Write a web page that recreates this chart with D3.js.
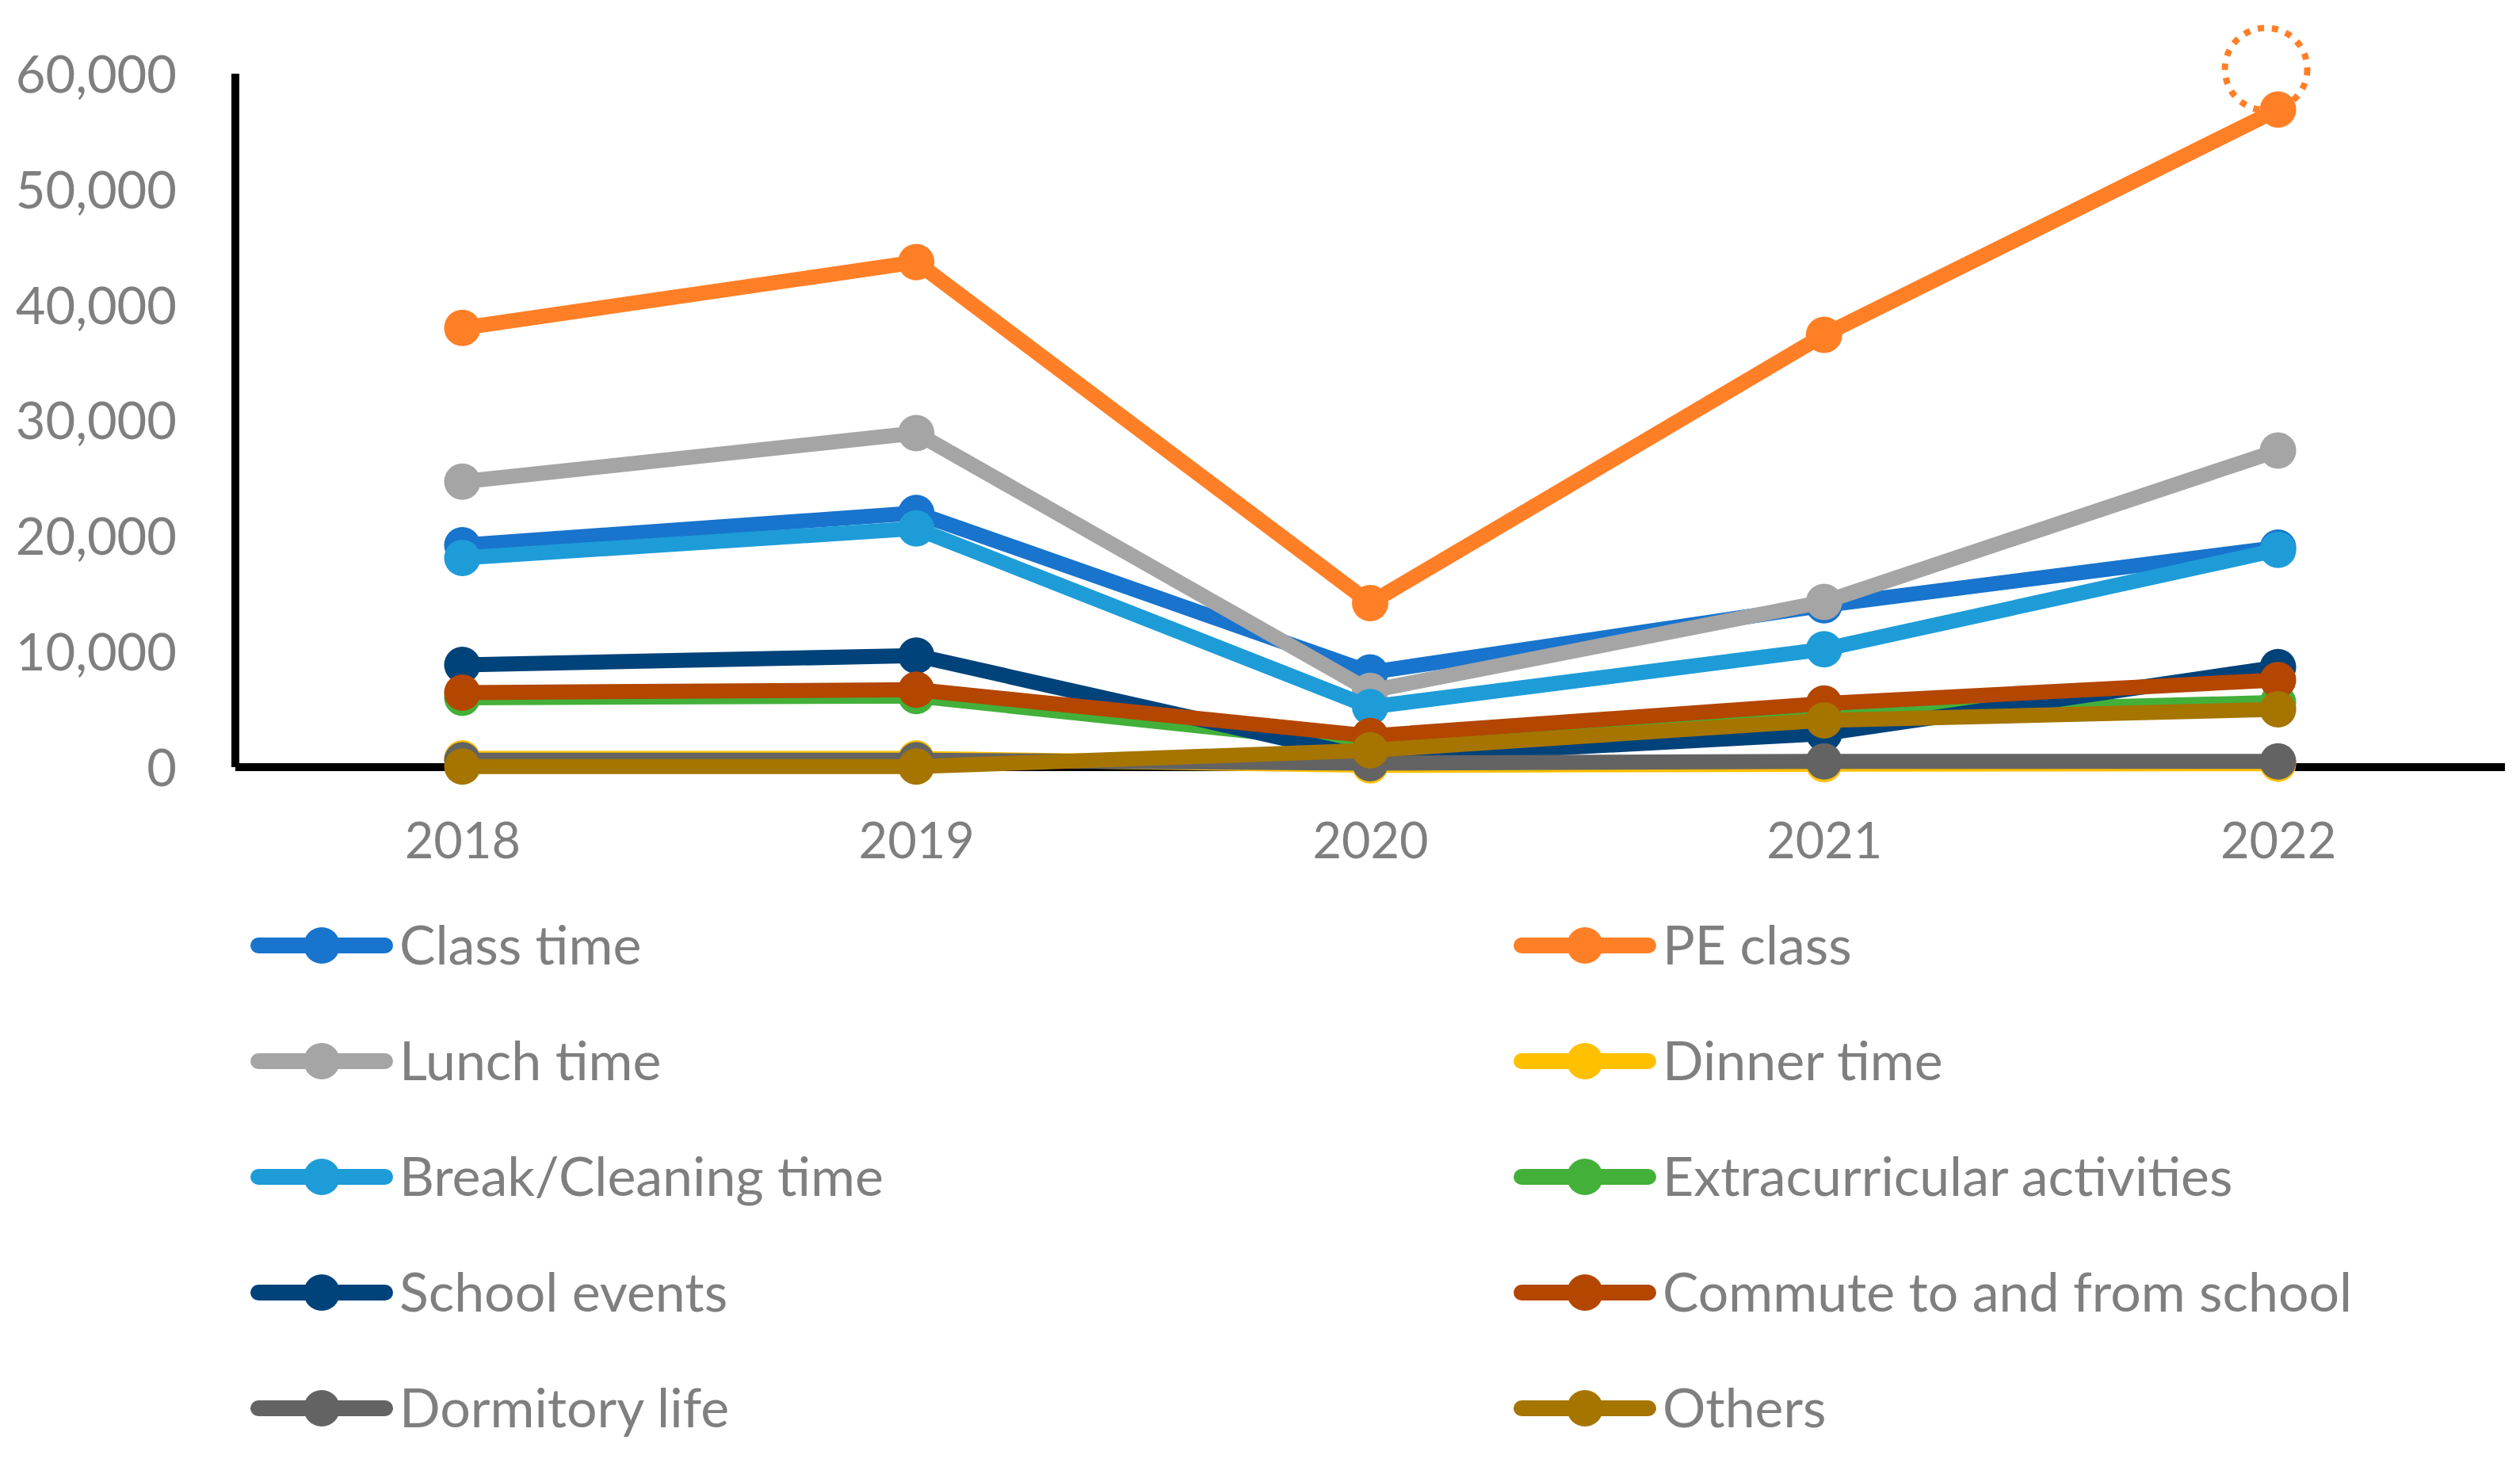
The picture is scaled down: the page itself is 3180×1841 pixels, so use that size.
<!DOCTYPE html>
<html>
<head>
<meta charset="utf-8">
<script src="https://cdn.jsdelivr.net/npm/d3@7"></script>
<style>
    body { margin: 0; background: #ffffff; }
    text { font-family: Lato, "Open Sans", sans-serif; fill: #7f7f7f; }
</style>
</head>
<body>
<div id="chart"></div>
<script>
// categories
var years = ["2018", "2019", "2020", "2021", "2022"];
var yTicks = [0, 10000, 20000, 30000, 40000, 50000, 60000];

// series values
var classTime = [19200, 22000, 8200, 14000, 19000];
var peClass = [38000, 43700, 14200, 37400, 56900];
var lunchTime = [24700, 28900, 6600, 14300, 27400];
var dinnerTime = [750, 750, 150, 250, 300];
var breakTime = [18100, 20650, 5200, 10200, 18800];
var extracurricular = [6000, 6150, 2000, 4600, 5600];
var schoolEvents = [8850, 9650, 800, 2900, 8650];
var commute = [6450, 6700, 2700, 5500, 7550];
var dormitory = [600, 600, 350, 500, 500];
var others = [50, 50, 1450, 4050, 5000];

var seriesNames = ["Class time", "PE class", "Lunch time", "Dinner time", "Break/Cleaning time",
    "Extracurricular activities", "School events", "Commute to and from school", "Dormitory life", "Others"];
var seriesValues = [classTime, peClass, lunchTime, dinnerTime, breakTime,
    extracurricular, schoolEvents, commute, dormitory, others];
var seriesColours = ["#1874cd", "#ff7f27", "#a5a5a5", "#ffc000", "#1e9cd8",
    "#43b03a", "#00427a", "#b34600", "#636363", "#a57500"];

var drawChart = (function () {
    const width = 3180;
    const height = 1841;
    const left = 297, right = 3161, top = 93, bottom = 968;

    var svg, x, y;

    function buildSvg() {
        svg = d3.select("#chart").append("svg")
            .attr("width", width)
            .attr("height", height);

        svg.append("rect")
            .attr("width", width)
            .attr("height", height)
            .attr("fill", "#ffffff");

        x = d3.scalePoint().domain(years).range([left, right]).padding(0.5);
        y = d3.scaleLinear().domain([0, 60000]).range([bottom, top]);
    }

    function drawAxes() {
        var yAxis = d3.axisLeft(y).tickValues(yTicks).tickFormat(d3.format(",")).tickSize(0).tickPadding(74);
        var gy = svg.append("g").attr("transform", "translate(" + left + ",0)").call(yAxis);
        gy.select(".domain").attr("stroke", "#000").attr("stroke-width", 10).attr("d", "M0," + top + "V" + bottom);
        gy.selectAll("text")
            .attr("font-size", 65)
            .attr("dy", "0.36em");

        var xAxis = d3.axisBottom(x).tickSize(0).tickPadding(70);
        var gx = svg.append("g").attr("transform", "translate(0," + bottom + ")").call(xAxis);
        gx.select(".domain").attr("stroke", "#000").attr("stroke-width", 10).attr("d", "M" + left + ",0H" + right);
        gx.selectAll("text")
            .attr("font-size", 63)
            .attr("dy", "0.71em");
        svg.selectAll(".tick text").attr("fill", "#7f7f7f").style("font-family", "Lato, sans-serif");
    }

    function drawSeries() {
        var line = d3.line()
            .x(function (d, i) { return x(years[i]) })
            .y(function (d) { return y(d) });

        seriesValues.forEach(function (values, s) {
            var g = svg.append("g");
            g.append("path")
                .attr("d", line(values))
                .attr("fill", "none")
                .attr("stroke", seriesColours[s])
                .attr("stroke-width", 19)
                .attr("stroke-linejoin", "round")
                .attr("stroke-linecap", "round");
            g.selectAll("circle")
                .data(values)
                .enter()
                .append("circle")
                .attr("cx", function (d, i) { return x(years[i]) })
                .attr("cy", function (d) { return y(d) })
                .attr("r", 23)
                .attr("fill", seriesColours[s]);
        });

        // dotted callout above the 2022 PE class point
        svg.append("circle")
            .attr("cx", x("2022") - 15)
            .attr("cy", y(60400))
            .attr("r", 52)
            .attr("fill", "none")
            .attr("stroke", "#ff7f27")
            .attr("stroke-width", 8)
            .attr("stroke-dasharray", "8 10");
    }

    function drawLegend() {
        var colX = [316, 1910];
        var rowY = d3.scaleLinear().domain([0, 4]).range([1193, 1777]);

        seriesNames.forEach(function (name, s) {
            var cx = colX[s % 2];
            var cy = rowY(Math.floor(s / 2));
            var g = svg.append("g").attr("transform", "translate(" + cx + "," + cy + ")");
            g.append("line")
                .attr("x1", 10).attr("x2", 170)
                .attr("stroke", seriesColours[s])
                .attr("stroke-width", 20)
                .attr("stroke-linecap", "round");
            g.append("circle")
                .attr("cx", 90)
                .attr("r", 23)
                .attr("fill", seriesColours[s]);
            g.append("text")
                .attr("x", 188)
                .attr("dy", "0.36em")
                .attr("font-size", 68)
                .text(name);
        });
    }

    document.addEventListener("DOMContentLoaded", function (event) {
        buildSvg();
        drawAxes();
        drawSeries();
        drawLegend();
    });
}());
</script>
</body>
</html>
